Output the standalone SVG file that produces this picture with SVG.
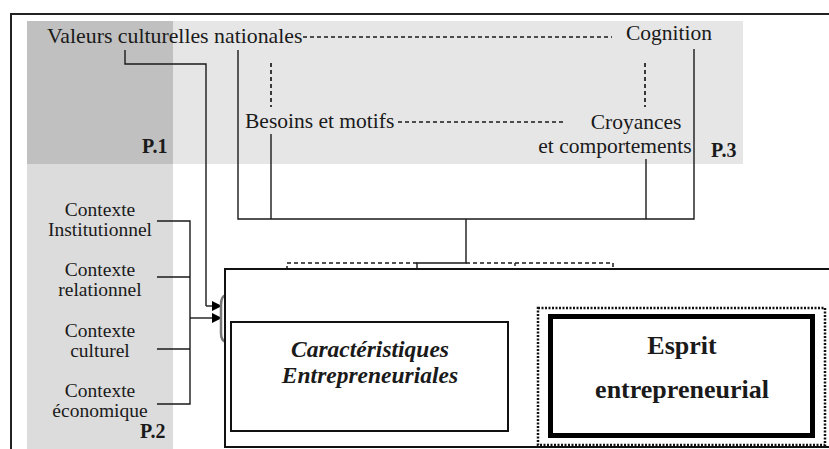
<svg xmlns="http://www.w3.org/2000/svg" width="829" height="449" viewBox="0 0 829 449">
<defs>
<style>
.t{font-family:"Liberation Serif","Times New Roman",serif;fill:#1a1a1a}
.b{font-weight:bold}
.ln{stroke:#1a1a1a;stroke-width:1.4;fill:none}
.ds{stroke:#1a1a1a;stroke-width:1.5;fill:none;stroke-dasharray:4 3}
.dv{stroke:#1a1a1a;stroke-width:1.7;fill:none;stroke-dasharray:4 3}
</style>
<marker id="ar" viewBox="0 0 10 10" refX="10" refY="5" markerWidth="10" markerHeight="10" markerUnits="userSpaceOnUse" orient="auto">
<path d="M0,0 L10,5 L0,10 z" fill="#000"/>
</marker>
</defs>
<rect width="829" height="449" fill="#fff"/>
<g id="frame">
<path d="M11 449 L11 14 L829 14" stroke="#222" stroke-width="2" fill="none"/>
</g>
<g id="p1">
<rect x="27" y="21" width="146" height="143" fill="#c0c0c0"/>
<text class="t b" x="142" y="153" font-size="20">P.1</text>
</g>
<g id="p3">
<rect x="173" y="21" width="570" height="143" fill="#e6e6e6"/>
<text class="t b" x="711" y="157" font-size="20">P.3</text>
</g>
<g id="p2">
<rect x="27" y="164" width="146" height="285" fill="#dcdcdc"/>
<text class="t b" x="140" y="438" font-size="20">P.2</text>
</g>
<g id="valeurs"><text class="t" x="47" y="43" font-size="21.8">Valeurs culturelles nationales</text></g>
<g id="cognition"><text class="t" x="626" y="40" font-size="21.5">Cognition</text></g>
<g id="besoins"><text class="t" x="245" y="128" font-size="21.5">Besoins et motifs</text></g>
<g id="croyances">
<text class="t" x="636" y="129" font-size="21.5" text-anchor="middle">Croyances</text>
<text class="t" x="615" y="153" font-size="21.5" text-anchor="middle">et comportements</text>
</g>
<g id="ctx-inst"><text class="t" x="100" y="216" font-size="19.5" text-anchor="middle">Contexte</text><text class="t" x="100" y="236" font-size="19.5" text-anchor="middle">Institutionnel</text></g>
<g id="ctx-rel"><text class="t" x="100" y="276" font-size="19.5" text-anchor="middle">Contexte</text><text class="t" x="100" y="296" font-size="19.5" text-anchor="middle">relationnel</text></g>
<g id="ctx-cult"><text class="t" x="100" y="337" font-size="19.5" text-anchor="middle">Contexte</text><text class="t" x="100" y="357" font-size="19.5" text-anchor="middle">culturel</text></g>
<g id="ctx-eco"><text class="t" x="100" y="397" font-size="19.5" text-anchor="middle">Contexte</text><text class="t" x="100" y="417" font-size="19.5" text-anchor="middle">économique</text></g>
<g id="connectors">
<path class="ds" d="M303 37 L612 37"/>
<path class="ds" d="M398 122 L564 122"/>
<path class="dv" d="M271 63 L271 107"/>
<path class="dv" d="M645 63 L645 107"/>
<path class="ln" d="M125 50 L125 64 L206 64 L206 306" />
<path class="ln" d="M206 306 L222 306" marker-end="url(#ar)"/>
<path class="ln" d="M238 50 L238 219 L694 219 L694 49"/>
<path class="ln" d="M271 134 L271 219"/>
<path class="ln" d="M646 159 L646 219"/>
<path class="ln" d="M466 219 L466 263 L417 263 L417 269"/>
<path class="ds" d="M417 263 L287 263 L287 269"/>
<path class="ds" d="M466 263 L613 263 L613 267"/>
<path class="ln" d="M515 263 L515 266"/>
<path class="ln" d="M157 221 L190 221 L190 404 L157 404 M157 277 L190 277 M157 349 L190 349"/>
<path class="ln" d="M190 318 L222 318" marker-end="url(#ar)"/>
<path d="M508 383 L563 383" stroke="#111" stroke-width="2" stroke-dasharray="7 5" fill="none"/>
</g>
<g id="main-box">
<path d="M226 295 Q221 296 221 305 L221 333 Q221 341 226 342" stroke="#777" stroke-width="2.5" fill="none"/>
<path d="M829 269 L225 269 L225 447 L829 447" stroke="#111" stroke-width="2" fill="#fff"/>
</g>
<g id="caracteristiques">
<rect x="231" y="322" width="277" height="109" fill="#fff" stroke="#111" stroke-width="2"/>
<text class="t b" x="370" y="357" font-size="23.5" font-style="italic" text-anchor="middle">Caractéristiques</text>
<text class="t b" x="370" y="383" font-size="23.5" font-style="italic" text-anchor="middle">Entrepreneuriales</text>
</g>
<g id="esprit">
<rect x="538" y="308" width="287" height="137" fill="none" stroke="#111" stroke-width="2.5" stroke-dasharray="2 1.5"/>
<rect x="550.5" y="316.5" width="262" height="119" fill="#fff" stroke="#000" stroke-width="5"/>
<text class="t b" x="682" y="354" font-size="26" text-anchor="middle">Esprit</text>
<text class="t b" x="682" y="398" font-size="26" text-anchor="middle">entrepreneurial</text>
</g>
</svg>
